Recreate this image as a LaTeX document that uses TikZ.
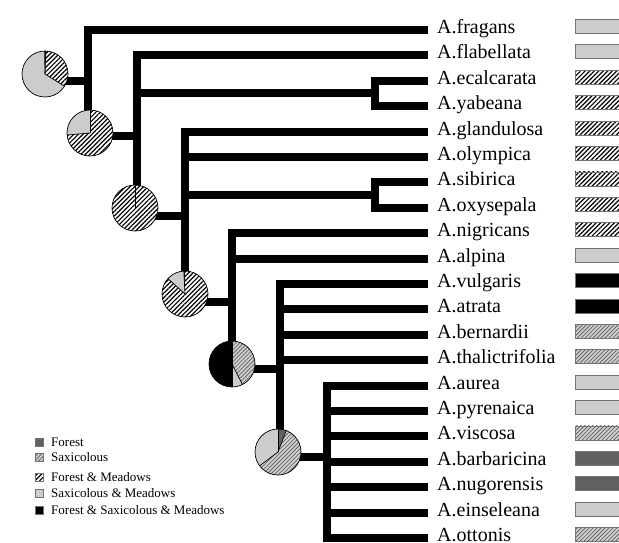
\documentclass[tikz,border=0pt]{standalone}
\usepackage{fontspec}
\setmainfont{Liberation Serif}
\usetikzlibrary{patterns.meta,calc}
\tikzset{
  br/.style={line width=8pt, black},
  vbr/.style={line width=8pt, black, line cap=rect},
  taxon/.style={anchor=base west, inner sep=0pt, font=\fontsize{20}{22}\selectfont},
  legtxt/.style={anchor=base west, inner sep=0pt, font=\fontsize{13}{15}\selectfont},
  forest/.style={fill=black!62},
  saxic/.style={preaction={fill=black!18}, pattern={Lines[angle=45,distance=2.8pt,line width=0.8pt]}, pattern color=black!60},
  fmead/.style={preaction={fill=white}, pattern={Lines[angle=45,distance=3.2pt,line width=1.2pt]}, pattern color=black},
  smead/.style={fill=black!20},
  fsm/.style={fill=black},
  stbox/.style={draw=black!55, line width=0.8pt},
  pieline/.style={draw=black, line width=0.7pt},
}
\newcommand\pslice[3]{\fill[#3] (0,0) -- (#1:23) arc[start angle=#1, end angle=#2, radius=23] -- cycle;}
\newcommand\pdiv[1]{\draw[pieline] (0,0) -- (#1:23);}
\begin{document}
\begin{tikzpicture}[x=1pt, y=-1pt]
\useasboundingbox (0,0) rectangle (619,543);
\clip (0,0) rectangle (619,543);
% leaves
\foreach \nm/\st [count=\i from 0] in {A.fragans/smead, A.flabellata/smead, A.ecalcarata/fmead, A.yabeana/fmead, A.glandulosa/fmead, A.olympica/fmead, A.sibirica/fmead, A.oxysepala/fmead, A.nigricans/fmead, A.alpina/smead, A.vulgaris/fsm, A.atrata/fsm, A.bernardii/saxic, A.thalictrifolia/saxic, A.aurea/smead, A.pyrenaica/smead, A.viscosa/saxic, A.barbaricina/forest, A.nugorensis/forest, A.einseleana/smead, A.ottonis/saxic}{
  \coordinate (t\i) at (428,{30+25.4*\i});
  \node[taxon] (l\i) at ($(t\i)+(9,3.5)$) {\nm};
  \draw[stbox, \st] ($(t\i)+(147,-10.5)$) rectangle ($(t\i)+(210,3.5)$);
}
% vertical positions
\coordinate (v1) at (88,0);
\coordinate (v2) at (137,0);
\coordinate (v3) at (185,0);
\coordinate (v4) at (232,0);
\coordinate (v5) at (280,0);
\coordinate (v6) at (327,0);
\coordinate (vA) at (375,0);
% corners / stems
\coordinate (k0) at (45,81);
\coordinate (k1) at (88,136);
\coordinate (k2) at (137,216);
\coordinate (k3) at (185,302);
\coordinate (k4) at (232,369);
\coordinate (k5) at (280,457);
\coordinate (mA) at ($(t2)!0.5!(t3)$);
\coordinate (mB) at ($(t6)!0.5!(t7)$);
% root
\draw[br] (k0) -- (v1 |- k0);
\draw[vbr] (v1 |- t0) -- (k1);
\draw[br] (v1 |- t0) -- (t0);
\draw[br] (k1) -- (v2 |- k1);
% node v2
\draw[vbr] (v2 |- t1) -- (k2);
\draw[br] (v2 |- t1) -- (t1);
\draw[br] (v2 |- mA) -- (vA |- mA);
\draw[vbr] (vA |- t2) -- (vA |- t3);
\draw[br] (vA |- t2) -- (t2);
\draw[br] (vA |- t3) -- (t3);
\draw[br] (k2) -- (v3 |- k2);
% node v3
\draw[vbr] (v3 |- t4) -- (k3);
\draw[br] (v3 |- t4) -- (t4);
\draw[br] (v3 |- t5) -- (t5);
\draw[br] (v3 |- mB) -- (vA |- mB);
\draw[vbr] (vA |- t6) -- (vA |- t7);
\draw[br] (vA |- t6) -- (t6);
\draw[br] (vA |- t7) -- (t7);
\draw[br] (k3) -- (v4 |- k3);
% node v4
\draw[vbr] (v4 |- t8) -- (k4);
\draw[br] (v4 |- t8) -- (t8);
\draw[br] (v4 |- t9) -- (t9);
\draw[br] (k4) -- (v5 |- k4);
% node v5
\draw[vbr] (v5 |- t10) -- (k5);
\foreach \i in {10,...,13}{\draw[br] (v5 |- t\i) -- (t\i);}
\draw[br] (k5) -- (v6 |- k5);
% node v6
\draw[vbr] (v6 |- t14) -- (v6 |- t20);
\foreach \i in {14,...,20}{\draw[br] (v6 |- t\i) -- (t\i);}
% pies
\coordinate (pie1) at (45,74);
\coordinate (pie2) at (90,133);
\coordinate (pie3) at (135,208);
\coordinate (pie4) at (185,294);
\coordinate (pie5) at (232,364);
\coordinate (pie6) at (278,452);
\begin{scope}[shift={(pie1)}, y=1pt]
  \pslice{-32}{88}{fmead}\pslice{88}{91}{fsm}\pslice{91}{328}{smead}
  \pdiv{-32}\pdiv{88}\pdiv{91}
  \draw[pieline] (0,0) circle[radius=23];
\end{scope}
\begin{scope}[shift={(pie2)}, y=1pt]
  \pslice{90}{185}{smead}\pslice{185}{450}{fmead}
  \pdiv{90}\pdiv{185}
  \draw[pieline] (0,0) circle[radius=23];
\end{scope}
\begin{scope}[shift={(pie3)}, y=1pt]
  \pslice{0}{360}{fmead}
  \pdiv{90}
  \draw[pieline] (0,0) circle[radius=23];
\end{scope}
\begin{scope}[shift={(pie4)}, y=1pt]
  \pslice{90}{93}{fsm}\pslice{93}{138}{smead}\pslice{138}{450}{fmead}
  \pdiv{93}\pdiv{138}
  \draw[pieline] (0,0) circle[radius=23];
\end{scope}
\begin{scope}[shift={(pie5)}, y=1pt]
  \pslice{90}{270}{fsm}\pslice{270}{297}{smead}\pslice{297}{450}{saxic}
  \pdiv{270}\pdiv{297}\pdiv{90}
  \draw[pieline] (0,0) circle[radius=23];
\end{scope}
\begin{scope}[shift={(pie6)}, y=1pt]
  \pslice{69}{90}{forest}\pslice{90}{217}{smead}\pslice{217}{429}{saxic}
  \pdiv{69}\pdiv{90}\pdiv{217}
  \draw[pieline] (0,0) circle[radius=23];
\end{scope}
% legend
\foreach \txt/\st/\cy [count=\j] in {Forest/forest/442, Saxicolous/saxic/457, Forest \& Meadows/fmead/477, Saxicolous \& Meadows/smead/493, Forest \& Saxicolous \& Meadows/fsm/510}{
  \draw[stbox, \st] (35,{\cy-4}) rectangle (43,{\cy+4});
  \node[legtxt] (lg\j) at (51,{\cy+4.5}) {\txt};
}
\end{tikzpicture}
\end{document}
